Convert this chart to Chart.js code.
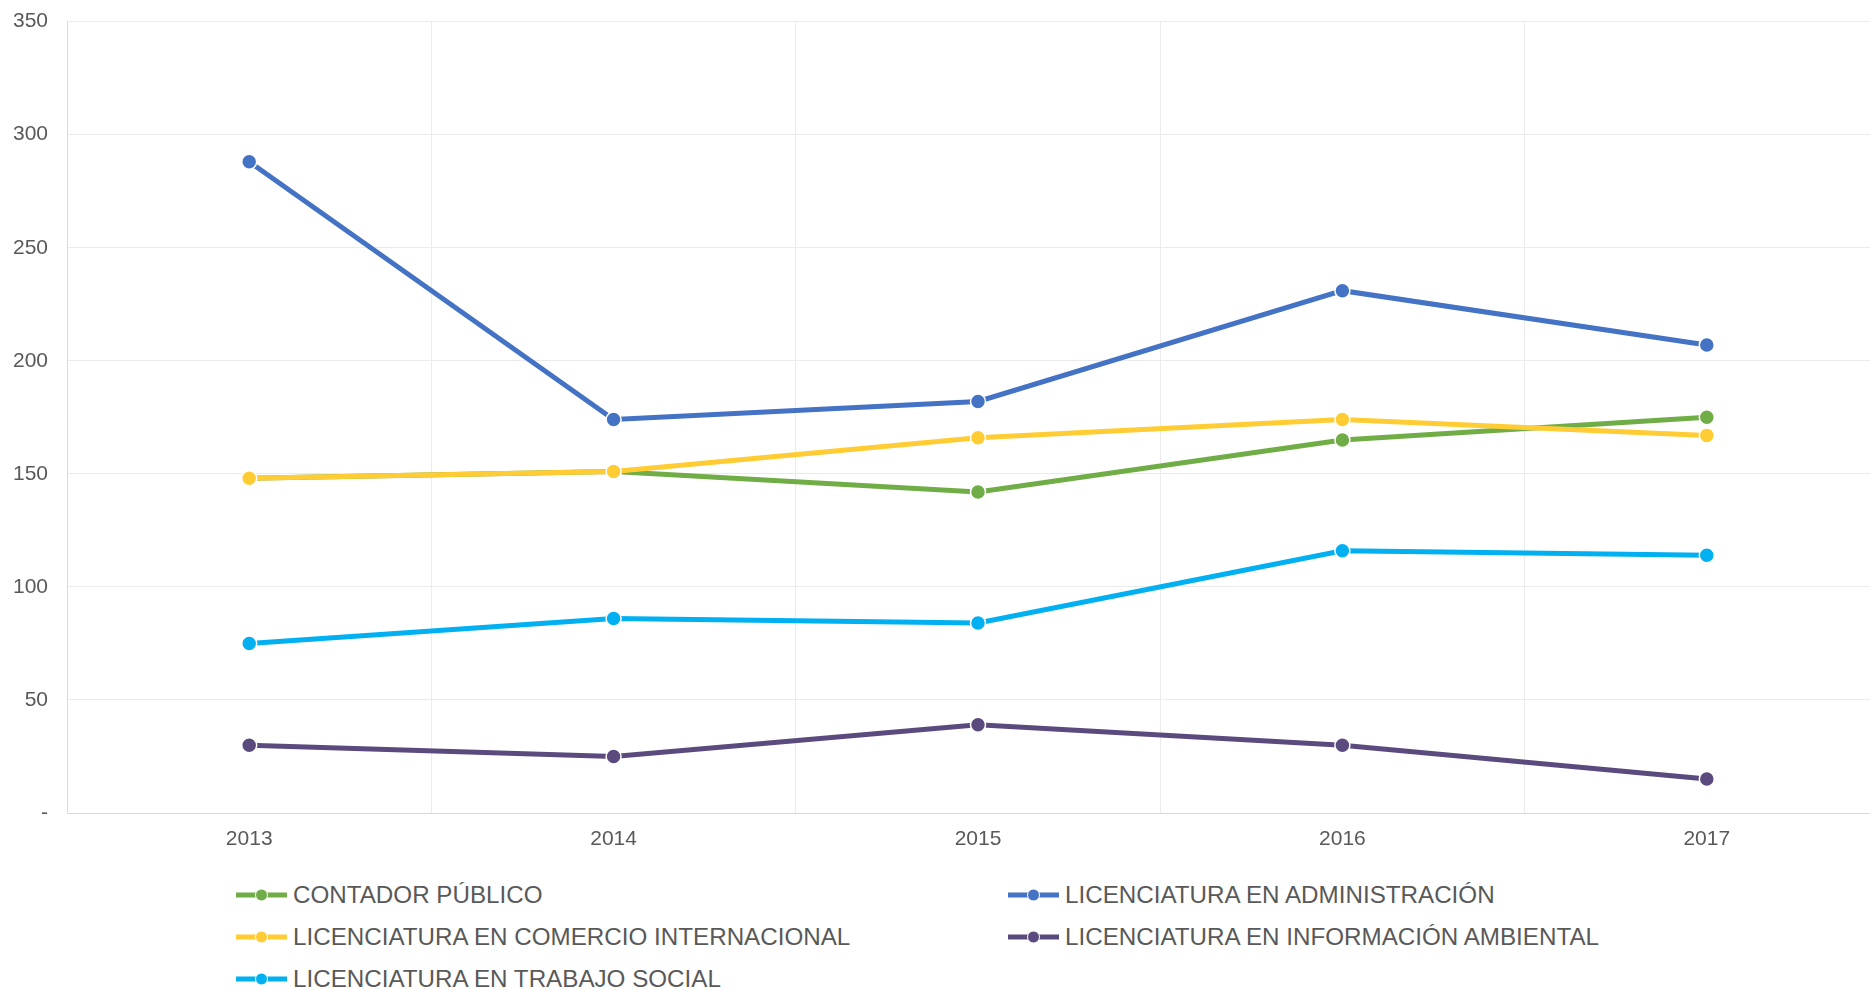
<!DOCTYPE html>
<html>
<head>
<meta charset="utf-8">
<script src="https://cdn.jsdelivr.net/npm/chart.js@4"></script>
<style>
  body { margin: 0; overflow: hidden; background: #fff; width: 1870px; height: 990px; position: relative; }
  #wrap { position: absolute; left: 0; top: -10px; width: 1890px; height: 880px; }
  .item { position: absolute; display: flex; align-items: center; height: 40px; margin-top: -20px;
          font-family: 'Liberation Sans', Arial, sans-serif;
          font-size: 24.2px; color: #595959; white-space: nowrap; }
  .item svg { margin-right: 6px; }
</style>
</head>
<body>
<div id="wrap"><canvas id="myChart" width="1890" height="880"></canvas></div>
<div id="legend"></div>
<script>
// x-axis categories (years)
const years = ['2013', '2014', '2015', '2016', '2017'];

// series values
const contador       = [148, 151, 142, 165, 175];
const administracion = [288, 174, 182, 231, 207];
const comercio       = [148, 151, 166, 174, 167];
const informacion    = [30, 25, 39, 30, 15];
const trabajoSocial  = [75, 86, 84, 116, 114];

const seriesNames = [
  'CONTADOR PÚBLICO',
  'LICENCIATURA EN ADMINISTRACIÓN',
  'LICENCIATURA EN COMERCIO INTERNACIONAL',
  'LICENCIATURA EN INFORMACIÓN AMBIENTAL',
  'LICENCIATURA EN TRABAJO SOCIAL'
];
const seriesData = [contador, administracion, comercio, informacion, trabajoSocial];
const seriesColors = ['#70AD47', '#4472C4', '#FFCC33', '#5B4A7D', '#00B0F0'];

const datasets = seriesNames.map((name, i) => ({
  label: name,
  data: seriesData[i],
  borderColor: seriesColors[i],
  backgroundColor: seriesColors[i],
  borderWidth: 5,
  pointRadius: 7.5,
  pointBorderColor: '#ffffff',
  pointBorderWidth: 1.5,
  pointBackgroundColor: seriesColors[i],
  fill: false,
  tension: 0,
  order: seriesNames.length - i   // later series drawn on top, like the original
}));

const tickFont = { family: "'Liberation Sans', Arial, sans-serif", size: 21 };

const ctx = document.getElementById('myChart');
const myChart = new Chart(ctx, {
  type: 'line',
  data: { labels: years, datasets: datasets },
  options: {
    responsive: false,
    animation: false,
    layout: { autoPadding: false, padding: { top: 0, right: 1, left: 0, bottom: 0 } },
    scales: {
      x: {
        offset: true,
        grid: { offset: true, color: '#ebebeb', lineWidth: 1, drawTicks: false },
        border: { color: '#d9d9d9' },
        ticks: { font: tickFont, color: '#595959', padding: 14, maxRotation: 0 },
        afterFit: s => { s.height = 57; }
      },
      y: {
        min: 0,
        max: 350,
        grid: { color: '#ebebeb', lineWidth: 1, drawTicks: false },
        border: { color: '#d9d9d9' },
        ticks: {
          stepSize: 50,
          font: tickFont,
          color: '#595959',
          padding: 19,
          callback: v => v === 0 ? '-' : v
        },
        afterFit: s => { s.width = 67; }
      }
    },
    plugins: {
      legend: { display: false },
      tooltip: { enabled: false }
    }
  }
});

// legend in two columns, built from the datasets
const legendX = [236, 1008];
const legendY = [895, 937, 979];
const legend = document.getElementById('legend');
myChart.data.datasets.forEach((ds, i) => {
  const item = document.createElement('div');
  item.className = 'item';
  item.style.left = legendX[i % 2] + 'px';
  item.style.top = legendY[Math.floor(i / 2)] + 'px';
  const c = ds.borderColor;
  item.innerHTML =
    '<svg width="51" height="16"><line x1="0" y1="8" x2="51" y2="8" stroke="' + c + '" stroke-width="5"/>' +
    '<circle cx="25.5" cy="8" r="6" fill="' + c + '" stroke="#fff" stroke-width="1"/></svg>' +
    '<span>' + ds.label + '</span>';
  legend.appendChild(item);
});
</script>
</body>
</html>
